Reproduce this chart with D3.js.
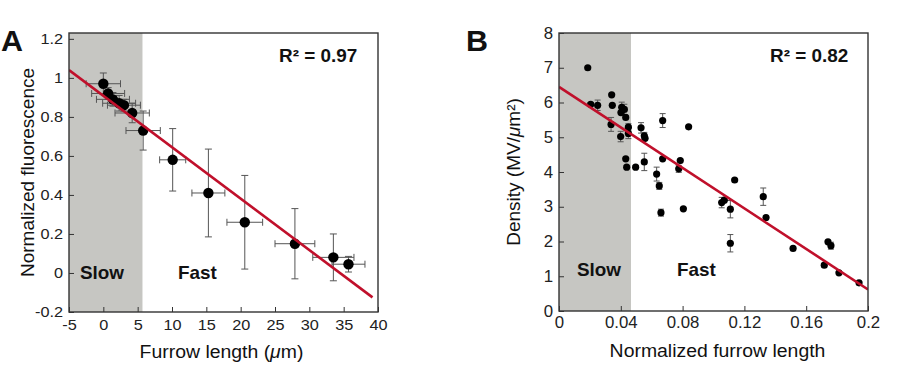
<!DOCTYPE html>
<html>
<head>
<meta charset="utf-8">
<script src="https://cdn.jsdelivr.net/npm/d3@7"></script>
<style>
  html, body { margin: 0; padding: 0; background: #fff; }
</style>
</head>
<body>
<svg id="chart" width="900" height="383"></svg>
<script>
// ---- Panel A: furrow length vs normalized fluorescence ----
const aLen     = [0, 0.7, 1.4, 2.3, 3.0, 4.2, 5.8, 10.1, 15.3, 20.6, 27.9, 33.5, 35.7];
const aFluo    = [0.97, 0.92, 0.89, 0.87, 0.86, 0.82, 0.73, 0.58, 0.41, 0.26, 0.15, 0.08, 0.045];
const aLenErr  = [2.5, 2.4, 2.4, 2.4, 2.4, 2.5, 2.5, 1.9, 2.4, 2.6, 2.9, 3.0, 2.4];
const aFluoErr = [0.055, 0.03, 0.035, 0.04, 0.03, 0.05, 0.1, 0.16, 0.225, 0.24, 0.18, 0.12, 0.04];
const aFitX = [-5, 39.2];
const aFitY = [1.04, -0.125];
const aXTicks = [-5, 0, 5, 10, 15, 20, 25, 30, 35, 40];
const aYTicks = [-0.2, 0, 0.2, 0.4, 0.6, 0.8, 1, 1.2];

// ---- Panel B: normalized furrow length vs MV density ----
const bLen = [0.0186, 0.0205, 0.025, 0.0341, 0.0345, 0.0337, 0.0399, 0.0406, 0.0423, 0.0401,
              0.0432, 0.0449, 0.0449, 0.0432, 0.0438, 0.0496, 0.0531, 0.0552, 0.0557, 0.0552,
              0.0671, 0.0671, 0.0632, 0.0649, 0.0775, 0.0785, 0.0839, 0.1137, 0.1322, 0.066,
              0.0805, 0.1053, 0.107, 0.1109, 0.1109, 0.134, 0.1515, 0.1717, 0.1741, 0.176,
              0.1812, 0.1942];
const bDens = [7.0, 5.95, 5.92, 6.22, 5.92, 5.37, 5.02, 5.86, 5.8, 5.71,
               5.57, 5.29, 5.11, 4.38, 4.14, 4.14, 5.27, 5.04, 4.97, 4.29,
               5.48, 4.38, 3.94, 3.6, 4.09, 4.33, 5.3, 3.77, 3.29, 2.83,
               2.94, 3.12, 3.19, 2.93, 1.95, 2.69, 1.8, 1.32, 1.99, 1.88,
               1.1, 0.81];
const bDensErr = [0, 0.05, 0.15, 0, 0, 0.2, 0.15, 0.15, 0.15, 0,
                  0, 0.1, 0.15, 0, 0, 0, 0.15, 0.1, 0, 0.25,
                  0.2, 0, 0.2, 0.1, 0.1, 0, 0, 0, 0.25, 0.1,
                  0, 0.15, 0, 0.25, 0.25, 0, 0, 0.05, 0, 0.1,
                  0, 0];
const bFitX = [0, 0.2];
const bFitY = [6.45, 0.62];
const bXTicks = [0, 0.04, 0.08, 0.12, 0.16, 0.2];
const bYTicks = [0, 1, 2, 3, 4, 5, 6, 7, 8];

const FONT = '"Liberation Sans", Arial, Helvetica, sans-serif';
const SX = 1.05;   // source figure is slightly stretched horizontally
const svg = d3.select('#chart');

// text helper: horizontal text with a small x-stretch
function label(g, x, y, anchor, size, weight) {
  return g.append('text')
    .attr('transform', `translate(${x},${y}) scale(${SX},1)`)
    .attr('text-anchor', anchor)
    .style('font-family', FONT)
    .style('font-size', size + 'px')
    .style('font-weight', weight || 'normal')
    .attr('fill', '#111');
}

function drawPanel(p) {
  const x = d3.scaleLinear().domain(p.xDomain).range([p.left, p.right]);
  const y = d3.scaleLinear().domain(p.yDomain).range([p.bottom, p.top]);
  const g = svg.append('g');

  const clipId = 'clip' + p.name;
  g.append('clipPath').attr('id', clipId)
    .append('rect')
    .attr('x', p.left).attr('y', p.top)
    .attr('width', p.right - p.left).attr('height', p.bottom - p.top);

  // slow zone
  g.append('rect')
    .attr('x', x(p.xDomain[0]))
    .attr('y', p.top)
    .attr('width', x(p.slowEnd) - x(p.xDomain[0]))
    .attr('height', p.bottom - p.top)
    .attr('fill', '#c6c6c2');

  // axes with inward ticks
  const xAxis = g.append('g')
    .attr('transform', `translate(0,${p.bottom})`)
    .call(d3.axisBottom(x).tickValues(p.xTicks).tickFormat(d => String(d))
      .tickSizeInner(-5).tickSizeOuter(0).tickPadding(p.xPad));
  const yAxis = g.append('g')
    .attr('transform', `translate(${p.left},0)`)
    .call(d3.axisLeft(y).tickValues(p.yTicks).tickFormat(d => String(d))
      .tickSizeInner(-5).tickSizeOuter(0).tickPadding(6));
  [xAxis, yAxis].forEach(ax => {
    ax.select('.domain').remove();
    ax.selectAll('line').attr('stroke', '#333').attr('stroke-width', 1);
    ax.selectAll('text')
      .attr('fill', '#222')
      .style('font-family', FONT)
      .style('font-size', p.tickSize + 'px')
      .attr('transform', `scale(${SX},1)`);
  });
  yAxis.selectAll('text').attr('x', -6 / SX);

  const pts = p.xs.map((v, i) => ({
    x: v, y: p.ys[i],
    ex: p.xErr ? p.xErr[i] : 0,
    ey: p.yErr ? p.yErr[i] : 0
  }));

  // error bars
  const eb = g.append('g').attr('stroke', '#555').attr('stroke-width', 1).attr('fill', 'none');
  const cap = p.cap;
  pts.forEach(d => {
    if (d.ex > 0) {
      const x0 = x(d.x - d.ex), x1 = x(d.x + d.ex), yy = y(d.y);
      eb.append('path').attr('d',
        `M${x0},${yy}H${x1}M${x0},${yy - cap}V${yy + cap}M${x1},${yy - cap}V${yy + cap}`);
    }
    if (d.ey > 0) {
      const y0 = y(d.y - d.ey), y1 = y(d.y + d.ey), xx = x(d.x);
      eb.append('path').attr('d',
        `M${xx},${y0}V${y1}M${xx - cap},${y0}H${xx + cap}M${xx - cap},${y1}H${xx + cap}`);
    }
  });

  // points
  g.append('g').selectAll('circle')
    .data(pts).enter()
    .append('circle')
    .attr('cx', d => x(d.x))
    .attr('cy', d => y(d.y))
    .attr('r', p.r)
    .attr('fill', '#000');

  // regression line
  const fit = p.fitX.map((v, i) => [v, p.fitY[i]]);
  g.append('path')
    .datum(fit)
    .attr('clip-path', `url(#${clipId})`)
    .attr('d', d3.line().x(d => x(d[0])).y(d => y(d[1])))
    .attr('stroke', '#c0102b')
    .attr('stroke-width', 2.6)
    .attr('fill', 'none');

  // frame
  g.append('rect')
    .attr('x', p.left).attr('y', p.top)
    .attr('width', p.right - p.left).attr('height', p.bottom - p.top)
    .attr('fill', 'none')
    .attr('stroke', '#333')
    .attr('stroke-width', 1.4);

  // annotations
  label(g, p.letterX, 51, 'start', 29, 'bold').text(p.name);
  label(g, p.r2X, 62, 'start', 18, 'bold').text(p.r2);
  label(g, p.slowX, p.zoneY, 'start', 18, 'bold').text('Slow');
  label(g, p.fastX, p.zoneY, 'start', 18, 'bold').text('Fast');

  // x title
  const xt = label(g, (p.left + p.right) / 2 + p.xTitleShift, p.xTitleY, 'middle', 18.5);
  p.xTitle(xt);

  // y title (rotated)
  const yt = g.append('text')
    .attr('transform', `translate(${p.yTitleX},${(p.top + p.bottom) / 2}) rotate(-90)`)
    .attr('text-anchor', 'middle')
    .style('font-family', FONT)
    .style('font-size', '19px')
    .attr('fill', '#111');
  p.yTitle(yt);
}

drawPanel({
  name: 'A',
  left: 69, right: 378, top: 33, bottom: 312,
  xDomain: [-5, 40], yDomain: [-0.2, 1.23],
  xTicks: aXTicks, yTicks: aYTicks,
  xPad: 7, tickSize: 15.5,
  slowEnd: 5.7,
  xs: aLen, ys: aFluo, xErr: aLenErr, yErr: aFluoErr,
  fitX: aFitX, fitY: aFitY,
  r: 5.2, cap: 3.5,
  letterX: 1, r2X: 279, r2: 'R² = 0.97',
  slowX: 80, fastX: 178, zoneY: 279,
  xTitleShift: -2, xTitleY: 358,
  yTitleX: 34,
  xTitle: t => {
    t.append('tspan').text('Furrow length (');
    t.append('tspan').style('font-style', 'italic').text('μ');
    t.append('tspan').text('m)');
  },
  yTitle: t => t.text('Normalized fluorescence')
});

drawPanel({
  name: 'B',
  left: 559, right: 868, top: 33, bottom: 311,
  xDomain: [0, 0.2], yDomain: [0, 8],
  xTicks: bXTicks, yTicks: bYTicks,
  xPad: 6, tickSize: 16,
  slowEnd: 0.0466,
  xs: bLen, ys: bDens, yErr: bDensErr,
  fitX: bFitX, fitY: bFitY,
  r: 3.6, cap: 3,
  letterX: 466, r2X: 770, r2: 'R² = 0.82',
  slowX: 577, fastX: 677, zoneY: 276,
  xTitleShift: 4, xTitleY: 357,
  yTitleX: 520,
  xTitle: t => t.text('Normalized furrow length'),
  yTitle: t => {
    t.append('tspan').text('Density (MV/');
    t.append('tspan').style('font-style', 'italic').text('μ');
    t.append('tspan').text('m²)');
  }
});
</script>
</body>
</html>
